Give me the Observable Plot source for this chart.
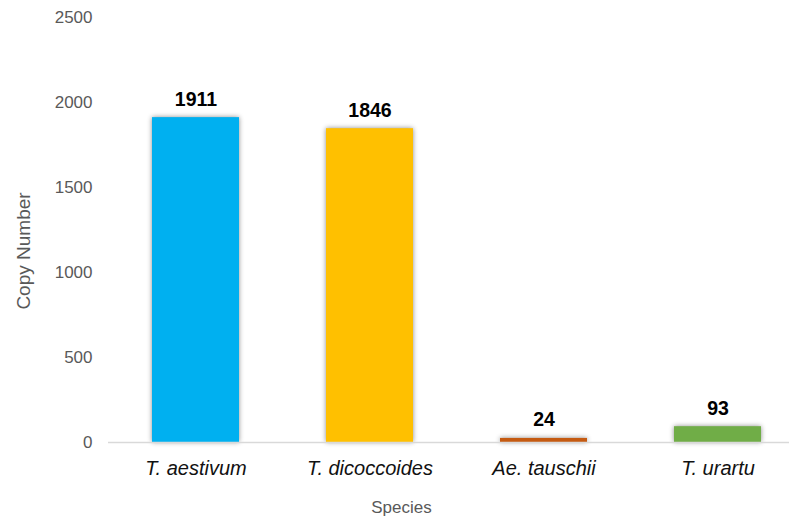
<!DOCTYPE html>
<html>
<head>
<meta charset="utf-8">
<script src="https://cdn.jsdelivr.net/npm/d3@7"></script>
<script src="https://cdn.jsdelivr.net/npm/@observablehq/plot@0.6"></script>
<style>
  html, body { margin: 0; padding: 0; background: #fff; }
  #chart svg { display: block; }
  /* soft shadow around each bar */
  #chart g[aria-label="bar"] rect { filter: drop-shadow(0 0 2.5px rgba(0, 0, 0, 0.45)); }
</style>
</head>
<body>
<div id="chart"></div>
<script>
// Copy number per species
const species = ["T. aestivum", "T. dicoccoides", "Ae. tauschii", "T. urartu"];
const copyNumbers = [1911, 1846, 24, 93];
const barColors = ["#00B0F0", "#FFC000", "#C55A11", "#70AD47"];
const yTicks = [0, 500, 1000, 1500, 2000, 2500];

const data = species.map((s, i) => ({species: s, copies: copyNumbers[i], color: barColors[i]}));

const W = 789, H = 516;
const mL = 108, mT = 17, mB = 74, mR = 0;

const chart = Plot.plot({
  width: W,
  height: H,
  marginLeft: mL,
  marginRight: mR,
  marginTop: mT,
  marginBottom: mB,
  style: {fontFamily: "'Liberation Sans', Arial, sans-serif", background: "#fff", overflow: "visible"},
  x: {domain: species, range: [108, 804], paddingInner: 0.5, paddingOuter: 0.25, label: null},
  y: {domain: [0, 2500], label: null},
  marks: [
    Plot.barY(data, {x: "species", y: "copies", fill: "color"}),
    Plot.ruleY([0], {stroke: "#D9D9D9", strokeWidth: 1.5}),
    Plot.axisY({ticks: yTicks, tickFormat: d3.format("d"), tickSize: 0, tickPadding: 16,
      fontSize: 17, fill: "#595959", label: null}),
    Plot.axisX({tickSize: 0, tickPadding: 18, fontSize: 20, fontStyle: "italic", fill: "#111", label: null}),
    Plot.text(data, {x: "species", y: "copies", text: d => String(d.copies), lineAnchor: "bottom", dy: -12,
      fontSize: 19.5, fontWeight: "bold", fill: "#000"}),
    Plot.text(["Copy Number"], {frameAnchor: "left", textAnchor: "middle", lineAnchor: "middle",
      rotate: -90, dx: 23 - mL, dy: 21, fontSize: 19, fill: "#595959"}),
    Plot.text(["Species"], {frameAnchor: "bottom", textAnchor: "middle", lineAnchor: "middle",
      dx: 401 - (mL + (W - mR)) / 2, dy: 65, fontSize: 17, fill: "#595959"})
  ]
});

document.getElementById("chart").appendChild(chart);
</script>
</body>
</html>
